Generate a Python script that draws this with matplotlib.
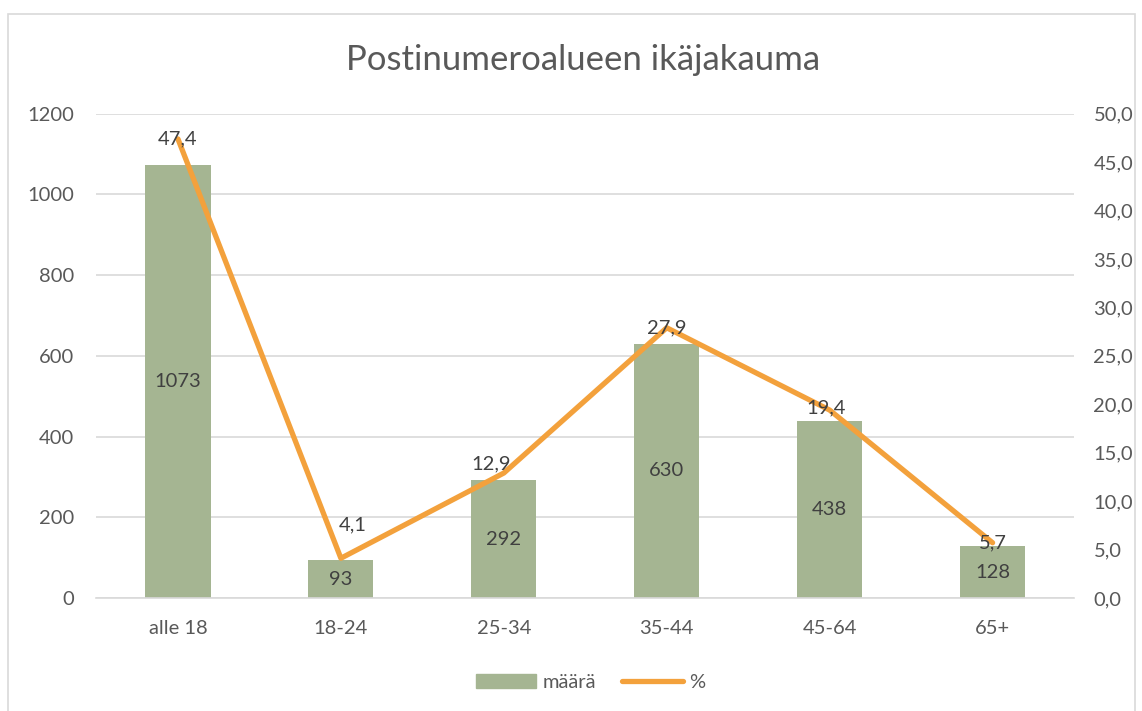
import matplotlib.pyplot as plt
from matplotlib.patches import Rectangle

categories = ['alle 18', '18-24', '25-34', '35-44', '45-64', '65+']
counts = [1073, 93, 292, 630, 438, 128]
percents = [47.4, 4.1, 12.9, 27.9, 19.4, 5.7]
left_ticks = [0, 200, 400, 600, 800, 1000, 1200]
right_ticks = [0, 5, 10, 15, 20, 25, 30, 35, 40, 45, 50]

text_color = '#595959'
bar_color = '#A5B592'
line_color = '#F3A13C'
grid_color = '#D9D9D9'
fs = 14.5

plt.rcParams['font.family'] = ['Lato', 'DejaVu Sans']

fig = plt.figure(figsize=(11.42, 7.11), dpi=100)
fig.patches.append(Rectangle((0.007, -0.01), 0.987, 0.99, transform=fig.transFigure,
                             fill=False, edgecolor='#D9D9D9', linewidth=1.2))
ax = fig.add_axes([0.0845, 0.159, 0.856, 0.681])
ax2 = ax.twinx()

x = list(range(len(categories)))
bars = ax.bar(x, counts, width=0.4, color=bar_color, zorder=2)
ax.set_ylim(0, 1200)
ax.set_xlim(-0.5, len(categories) - 0.5)
ax.set_yticks(left_ticks)
ax.yaxis.grid(True, color=grid_color, linewidth=1.2, zorder=0)
ax.set_axisbelow(True)
ax.set_xticks(x)
ax.set_xticklabels(categories)
for s in ['top', 'left', 'right']:
    ax.spines[s].set_visible(False)
ax.spines['bottom'].set_color(grid_color)
ax.spines['bottom'].set_linewidth(1.2)
ax.tick_params(axis='both', length=0, labelsize=fs, colors=text_color)
ax.tick_params(axis='x', pad=16)
ax.tick_params(axis='y', pad=16)

for b, v in zip(bars, counts):
    ax.text(b.get_x() + b.get_width() / 2, v / 2, str(v), ha='center', va='center',
            fontsize=fs, color='#404040', zorder=3)

ax2.plot(x, percents, color=line_color, linewidth=3.8, solid_capstyle='round', zorder=4)
ax2.set_ylim(0, 50)
ax2.set_yticks(right_ticks)
ax2.set_yticklabels([f'{t:.1f}'.replace('.', ',') for t in right_ticks])
for s in ['top', 'left', 'right', 'bottom']:
    ax2.spines[s].set_visible(False)
ax2.tick_params(axis='y', length=0, labelsize=fs, colors=text_color, pad=14)

label_offsets = [(0, 0), (12, 33), (-13, 9), (0, 0), (-4, 2), (0, 0)]
for xi, p, off in zip(x, percents, label_offsets):
    ax2.annotate(f'{p:.1f}'.replace('.', ','), (xi, p), xytext=off, textcoords='offset pixels',
                 ha='center', va='center', fontsize=fs, color='#404040', zorder=5)

handles = [Rectangle((0, 0), 1, 1, color=bar_color),
           plt.Line2D([0], [0], color=line_color, linewidth=3.8, solid_capstyle='round')]
leg = fig.legend(handles, ['määrä', '%'], loc='center', bbox_to_anchor=(0.517, 0.04), ncol=2,
                 frameon=False, fontsize=fs, handlelength=3.0, handleheight=0.7, columnspacing=1.3,
                 handletextpad=0.3)
for t in leg.get_texts():
    t.set_color(text_color)

fig.text(0.511, 0.915, 'Postinumeroalueen ikäjakauma', ha='center', va='center',
         fontsize=25, color=text_color)

fig.savefig('out.png', dpi=100)
